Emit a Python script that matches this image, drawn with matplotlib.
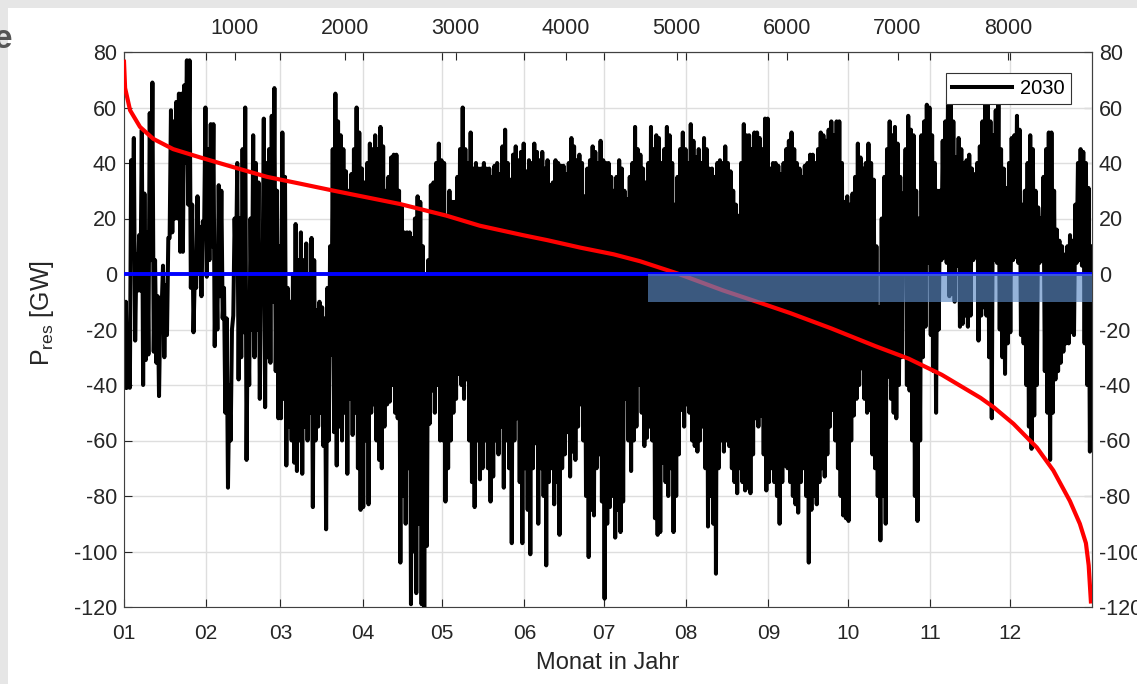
import numpy as np
import matplotlib.pyplot as plt
from matplotlib.patches import Rectangle

plt.rcParams['font.family'] = ['Liberation Sans', 'DejaVu Sans']
plt.rcParams['axes.unicode_minus'] = False

# Residuallast 2030, je Tag Minimum und Maximum in GW
p_max = [
    -10, -30, 41, 49, 7, 14, 52, 29, 15, 58,
    69, 5, -8, -12, 3, -4, 13, 59, 55, 62,
    65, 65, 68, 77, 77, 25, 0, 28, 17, 19,
    60, 45, 54, 54, 10, 32, 30, -5, -16, -40,
    -20, 20, 40, 20, 45, 60, -10, 20, 50, 40,
    33, 10, 56, 40, 45, 57, 67, 30, 10, 51,
    35, -5, -10, 0, 18, 5, 15, 5, 11, 0,
    13, 5, -13, -10, -12, -16, -5, 10, 45, 65,
    55, 50, 45, 37, 30, 36, 45, 60, 51, 38,
    33, 40, 47, 45, 50, 45, 53, 46, 30, 35,
    42, 43, 43, 30, 24, 15, 15, 15, 13, 20,
    28, 26, 10, 0, 5, 32, 33, 40, 47, 41,
    40, 21, 30, 26, 26, 35, 45, 60, 45, 40,
    51, 38, 40, 38, 38, 40, 38, 38, 35, 39,
    40, 36, 46, 52, 40, 34, 43, 46, 41, 44,
    47, 37, 41, 40, 47, 44, 41, 44, 38, 41,
    32, 33, 41, 40, 39, 39, 36, 40, 49, 46,
    41, 43, 40, 28, 38, 41, 46, 44, 40, 48,
    41, 40, 40, 35, 30, 35, 41, 38, 30, 27,
    35, 40, 53, 45, 43, 38, 33, 40, 53, 45,
    50, 49, 40, 45, 53, 50, 40, 25, 35, 45,
    51, 45, 40, 54, 48, 42, 45, 40, 49, 45,
    38, 38, 35, 40, 41, 40, 46, 40, 37, 30,
    25, 21, 40, 54, 50, 50, 45, 51, 51, 49,
    45, 56, 56, 38, 40, 40, 39, 36, 40, 45,
    48, 51, 45, 40, 38, 35, 39, 40, 43, 43,
    40, 45, 51, 50, 48, 52, 55, 50, 55, 55,
    40, 26, 28, 25, 29, 35, 47, 42, 38, 40,
    47, 40, 34, 10, -12, 20, 35, 45, 55, 50,
    53, 47, 35, 29, 45, 57, 52, 50, 30, 20,
    50, 55, 61, 60, 50, 40, 30, 30, 48, 55,
    64, 65, 55, 42, 49, 45, 40, 41, 43, 38,
    36, 40, 46, 55, 61, 62, 55, 50, 59, 61,
    45, 38, 31, 40, 49, 50, 57, 52, 25, 30,
    40, 50, 45, 30, 24, 20, 35, 45, 51, 51,
    30, 16, 12, 10, 7, 10, 14, 12, 25, 40,
    45, 44, 40, 31, 10,
]
p_min = [
    -41, -41, -41, 7, -24, -6, -6, -40, -31, -29,
    5, -28, -32, -44, -12, -30, -22, 13, 15, 20,
    20, 8, 8, 40, 25, -5, -21, -5, 0, -8,
    15, -1, 5, 10, -26, -20, -8, -16, -50, -77,
    -60, -15, 0, -38, -30, -21, -67, -40, -20, -30,
    -20, -45, -10, -48, -30, -32, -10, -35, -52, -52,
    -45, -69, -55, -60, -68, -71, -60, -72, -55, -60,
    -50, -84, -60, -55, -50, -62, -92, -60, -29, -57,
    -69, -55, -60, -50, -72, -45, -58, -50, -70, -85,
    -84, -60, -83, -50, -47, -60, -67, -70, -55, -47,
    -46, -40, -50, -52, -104, -80, -90, -70, -119, -100,
    -115, -90, -119, -120, -98, -54, -42, -50, -40, -60,
    -60, -82, -70, -60, -50, -45, -36, -40, -45, -38,
    -60, -75, -84, -60, -74, -70, -60, -70, -82, -73,
    -60, -65, -55, -77, -60, -70, -97, -60, -52, -75,
    -97, -70, -85, -101, -70, -61, -90, -70, -80, -105,
    -75, -70, -83, -75, -94, -70, -65, -57, -73, -64,
    -67, -55, -47, -60, -80, -102, -85, -87, -70, -65,
    -82, -117, -90, -84, -80, -95, -85, -93, -82, -45,
    -60, -71, -60, -55, -40, -50, -62, -59, -55, -60,
    -88, -94, -93, -68, -75, -80, -70, -93, -80, -65,
    -49, -55, -47, -50, -60, -62, -64, -60, -55, -70,
    -91, -80, -90, -108, -70, -60, -64, -60, -62, -70,
    -75, -79, -70, -75, -78, -77, -79, -65, -52, -55,
    -51, -65, -78, -75, -70, -75, -80, -90, -75, -69,
    -70, -75, -80, -83, -86, -75, -70, -80, -104, -85,
    -80, -83, -75, -70, -73, -65, -55, -49, -60, -70,
    -80, -87, -88, -89, -60, -51, -45, -40, -34, -45,
    -50, -49, -65, -70, -80, -96, -80, -90, -37, -45,
    -50, -52, -40, -30, 2, -40, -42, -60, -80, -89,
    -60, -30, -19, 4, -22, -35, -50, -20, 5, 6,
    4, -8, -7, -10, 3, -19, -18, -15, -19, -15,
    5, 6, -24, -15, -12, -15, -30, -52, 5, 4,
    -20, -30, -36, -25, -21, 5, 6, 4, -22, -25,
    -40, -55, -63, -51, -40, 4, 5, -35, -50, -67,
    -50, -38, -35, -32, -28, -25, -25, -21, -22, 4,
    5, 3, -25, -40, -64,
]

# Jahresdauerlinie der Residuallast (Stunde, GW)
dl_stunde = [0, 10, 55, 145, 265, 445, 690, 990, 1295, 1600, 1900, 2200,
             2500, 2620, 2920, 3220, 3610, 3830, 4130, 4430, 4670,
             5000, 5420, 5780, 6030, 6400, 6800, 7100, 7400, 7750, 7870,
             8050, 8260, 8410, 8560, 8650, 8705, 8730, 8750]
dl_wert = [76.5, 67, 59, 53, 48.7, 45, 42, 38.5, 35, 32.5, 30, 27.6,
           25.2, 24, 21, 17.4, 14, 12.2, 9.5, 7.1, 4.6,
           0.3, -5.9, -10.7, -14.1, -19.6, -26, -30.5, -36.3, -44.6, -48,
           -54, -62.5, -70.8, -81.8, -90, -97, -105, -118]

monate = ['01', '02', '03', '04', '05', '06', '07', '08', '09', '10', '11', '12']
monat_start_tag = [0, 31, 59, 90, 120, 151, 181, 212, 243, 273, 304, 334]
stunden_ticks = [1000, 2000, 3000, 4000, 5000, 6000, 7000, 8000]
y_ticks = [-120, -100, -80, -60, -40, -20, 0, 20, 40, 60, 80]

# Bereich mit Ueberschuss (Stunden, GW)
bereich_start = 4740
bereich_ende = 8760
bereich_unten = -10

# Stundenreihe: pro Tag erst Minimum, dann Maximum
tage = np.arange(len(p_max))
stunde = np.column_stack([tage * 24 + 5, tage * 24 + 17]).ravel()
p_res = np.column_stack([p_min, p_max]).ravel()

fig = plt.figure(figsize=(11.37, 6.84), dpi=100)
fig.patch.set_facecolor('#e6e6e6')
fig.add_artist(Rectangle((8 / 1137, 0), 1, 1 - 8 / 684, transform=fig.transFigure,
                         facecolor='white', edgecolor='none', zorder=-5))
fig.text(0.011, 1 - 40 / 684, 'e', ha='right', va='center', fontsize=24,
         fontweight='bold', color='#555555')

ax = fig.add_axes([124 / 1137, 1 - 607 / 684, 968 / 1137, 555 / 684])

ax.plot(stunde, p_res, color='black', lw=2.9, label='2030', zorder=2)
ax.plot(dl_stunde, dl_wert, color='red', lw=3.0, zorder=3)
ax.plot([0, 8760], [0, 0], color='#0000ff', lw=2.8, zorder=4)
ax.add_patch(Rectangle((bereich_start, bereich_unten), bereich_ende - bereich_start,
                       -bereich_unten, facecolor='#5c8ac5', alpha=0.65,
                       edgecolor='none', zorder=5))

ax.set_xlim(0, 8760)
ax.set_ylim(-120, 80)
ax.set_xticks([t * 24 for t in monat_start_tag])
ax.set_xticklabels(monate)
ax.set_yticks(y_ticks)
ax.grid(True, color='#dedede', lw=1)
ax.set_axisbelow(True)
ax.tick_params(direction='in', length=6, top=True, labelsize=15, colors='#262626', pad=12)
ax.tick_params(axis='y', pad=5, labelsize=15.5)
for s in ax.spines.values():
    s.set_color('#404040')

oben = ax.secondary_xaxis('top')
oben.set_xticks(stunden_ticks)
oben.tick_params(direction='in', length=6, labelsize=15.5, colors='#262626', pad=9)
oben.spines['top'].set_color('#404040')

rechts = ax.secondary_yaxis('right')
rechts.set_yticks(y_ticks)
rechts.tick_params(direction='in', length=6, labelsize=15.5, colors='#262626', pad=5)
rechts.spines['right'].set_color('#404040')

ax.set_xlabel('Monat in Jahr', fontsize=17, color='#262626')
ax.xaxis.set_label_coords(0.5, -0.081)
ax.set_ylabel(r'$\mathregular{P_{res}}$ [GW]', fontsize=18, color='#262626')
ax.yaxis.set_label_coords(-0.07, 0.53)

leg = ax.legend(loc='upper right', fontsize=14.5, handlelength=3.0, fancybox=False,
                edgecolor='#333333', framealpha=1, borderpad=0.3, borderaxespad=0,
                handletextpad=0.4, bbox_to_anchor=(0.978, 0.962))
leg.get_frame().set_linewidth(0.8)
leg.set_zorder(10)

fig.savefig('out.png', dpi=100, facecolor=fig.get_facecolor())
